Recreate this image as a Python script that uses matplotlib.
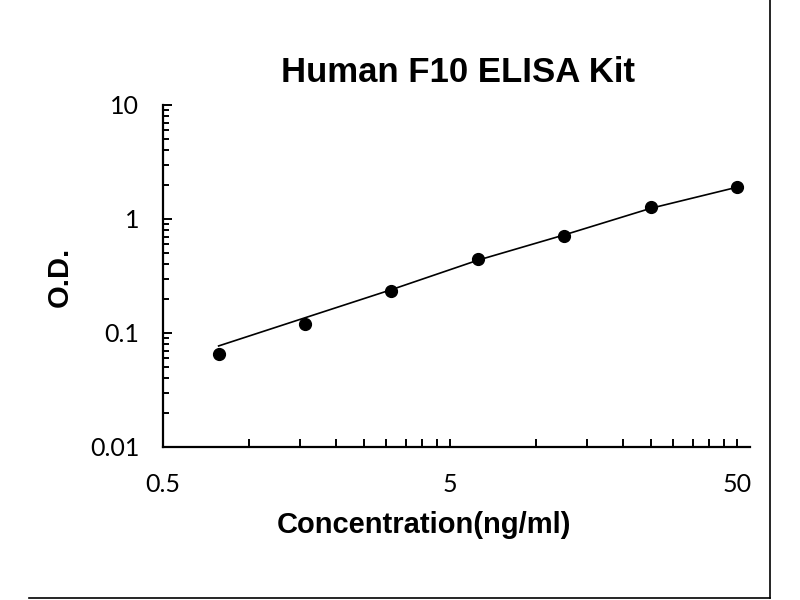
import matplotlib
matplotlib.use("Agg")
import matplotlib.pyplot as plt
from matplotlib.ticker import FixedLocator, FixedFormatter, NullFormatter
from matplotlib.lines import Line2D

# Data
concentration = [0.78125, 1.5625, 3.125, 6.25, 12.5, 25, 50]
od_values = [0.065, 0.119, 0.235, 0.443, 0.709, 1.267, 1.897]
curve_od = [0.077, 0.136, 0.240, 0.435, 0.725, 1.24, 1.90]

x_major = [0.5, 5, 50]
x_major_labels = ["0.5", "5", "50"]
x_minor = [1, 1.5, 2, 2.5, 3, 3.5, 4, 4.5, 10, 15, 20, 25, 30, 35, 40, 45]
y_major = [0.01, 0.1, 1, 10]
y_major_labels = ["0.01", "0.1", "1", "10"]
y_minor = [m * d for d in (0.01, 0.1, 1) for m in range(2, 10)]

title = "Human F10 ELISA Kit"
xlabel = "Concentration(ng/ml)"
ylabel = "O.D."

fig = plt.figure(figsize=(8, 6), dpi=100)
ax = fig.add_axes([163/800, 1-447/600, 587/800, 342/600])
ax.set_xscale("log")
ax.set_yscale("log")

ax.plot(concentration, curve_od, color="black", lw=1.2, zorder=2)
ax.plot(concentration, od_values, "o", color="black", ms=8.5, zorder=3, clip_on=False)

ax.set_xlim(0.5, 55.5)
ax.set_ylim(0.01, 10)

ax.xaxis.set_major_locator(FixedLocator(x_major))
ax.xaxis.set_major_formatter(FixedFormatter(x_major_labels))
ax.xaxis.set_minor_locator(FixedLocator(x_minor))
ax.xaxis.set_minor_formatter(NullFormatter())
ax.yaxis.set_major_locator(FixedLocator(y_major))
ax.yaxis.set_major_formatter(FixedFormatter(y_major_labels))
ax.yaxis.set_minor_locator(FixedLocator(y_minor))
ax.yaxis.set_minor_formatter(NullFormatter())

for s in ("top", "right"):
    ax.spines[s].set_visible(False)
for s in ("left", "bottom"):
    ax.spines[s].set_linewidth(1.6)

tick_font = "Lato"
ax.tick_params(axis="both", which="both", direction="in", width=1.4, color="black")
ax.tick_params(axis="x", which="major", length=6, pad=19, labelsize=18)
ax.tick_params(axis="x", which="minor", length=6)
ax.tick_params(axis="y", which="major", length=6.5, pad=17, labelsize=18)
ax.tick_params(axis="y", which="minor", length=4)
for lab in ax.get_xticklabels() + ax.get_yticklabels():
    lab.set_fontfamily(tick_font)

fig.text(458/800, 1-73/600, title, ha="center", va="center",
         fontsize=25, fontweight="bold", family="Liberation Sans")
fig.text(424/800, 1-525/600, xlabel, ha="center", va="center",
         fontsize=21, fontweight="bold", family="Liberation Sans")
fig.text(60/800, 1-277/600, ylabel, ha="center", va="center", rotation=90,
         fontsize=21, fontweight="bold", family="Liberation Sans")

# image frame lines
fig.add_artist(Line2D([770/800, 770/800], [1-598/600, 1.0], color="black", lw=1.2,
                      transform=fig.transFigure))
fig.add_artist(Line2D([29/800, 770/800], [1-598/600, 1-598/600], color="black", lw=1.2,
                      transform=fig.transFigure))

fig.savefig("out.png", dpi=100)
